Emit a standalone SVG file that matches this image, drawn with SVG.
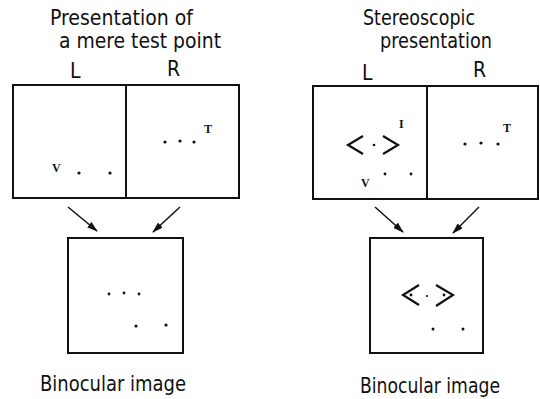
<svg xmlns="http://www.w3.org/2000/svg" width="540" height="399" viewBox="0 0 540 399">
<style>
.t{font-family:"DejaVu Sans Condensed","DejaVu Sans",sans-serif;font-size:21px;fill:#111}
.s{font-family:"Liberation Serif",serif;font-size:12px;font-weight:bold;fill:#111}
.box{fill:none;stroke:#111;stroke-width:2}
.ch{fill:none;stroke:#111;stroke-width:2.2}
.ar{stroke:#111;stroke-width:1.5;fill:none}
.d{fill:#111}
</style>
<defs>
<marker id="ah" markerWidth="11" markerHeight="7" refX="10" refY="3.5" orient="auto" markerUnits="userSpaceOnUse">
<path d="M0,0 L11,3.5 L0,7 z" fill="#111"/>
</marker>
</defs>
<rect width="540" height="399" fill="#fff"/>
<g id="left-titles">
<text class="t" x="50" y="25" textLength="143" lengthAdjust="spacingAndGlyphs">Presentation of</text>
<text class="t" x="59" y="48" textLength="162" lengthAdjust="spacingAndGlyphs">a mere test point</text>
<text class="t" x="70" y="78">L</text>
<text class="t" x="167" y="76">R</text>
</g>
<g id="left-L">
<rect class="box" x="13" y="85" width="113" height="113"/>
<text class="s" x="52" y="172">V</text>
<circle class="d" cx="79" cy="173" r="1.6"/>
<circle class="d" cx="110" cy="173" r="1.6"/>
</g>
<g id="left-R">
<rect class="box" x="126" y="85" width="113" height="113"/>
<circle class="d" cx="165" cy="142" r="1.6"/>
<circle class="d" cx="180" cy="141" r="1.6"/>
<circle class="d" cx="194" cy="142" r="1.6"/>
<text class="s" x="204" y="133">T</text>
</g>
<g id="left-binocular">
<rect class="box" x="68" y="238" width="115" height="115"/>
<circle class="d" cx="109" cy="294" r="1.4"/>
<circle class="d" cx="124" cy="293" r="1.4"/>
<circle class="d" cx="139" cy="294" r="1.4"/>
<circle class="d" cx="136" cy="326" r="1.6"/>
<circle class="d" cx="166" cy="325" r="1.6"/>
<text class="t" x="40" y="391" textLength="146" lengthAdjust="spacingAndGlyphs">Binocular image</text>
</g>
<g id="right-titles">
<text class="t" x="363" y="25" textLength="112" lengthAdjust="spacingAndGlyphs">Stereoscopic</text>
<text class="t" x="380" y="48" textLength="112" lengthAdjust="spacingAndGlyphs">presentation</text>
<text class="t" x="362" y="80">L</text>
<text class="t" x="473" y="77">R</text>
</g>
<g id="right-L">
<rect class="box" x="313" y="86" width="114" height="113"/>
<polyline class="ch" points="363,136 348,145 363,154"/>
<circle class="d" cx="374" cy="145" r="1.3"/>
<polyline class="ch" points="383,136 398,145 383,154"/>
<text class="s" x="399" y="128">I</text>
<text class="s" x="361" y="187">V</text>
<circle class="d" cx="385" cy="174" r="1.4"/>
<circle class="d" cx="411" cy="174" r="1.4"/>
</g>
<g id="right-R">
<rect class="box" x="427" y="86" width="111" height="113"/>
<circle class="d" cx="465" cy="144" r="1.6"/>
<circle class="d" cx="481" cy="143" r="1.6"/>
<circle class="d" cx="498" cy="144" r="1.6"/>
<text class="s" x="503" y="132">T</text>
</g>
<g id="right-binocular">
<rect class="box" x="370" y="238" width="113" height="115"/>
<polyline class="ch" points="419,285 403,295 419,305"/>
<circle class="d" cx="411" cy="295" r="1.4"/>
<circle class="d" cx="427" cy="296" r="1.1"/>
<polyline class="ch" points="436,285 453,295 436,306"/>
<circle class="d" cx="444" cy="295" r="1.4"/>
<circle class="d" cx="433" cy="329" r="1.5"/>
<circle class="d" cx="463" cy="329" r="1.5"/>
<text class="t" x="360" y="393" textLength="140" lengthAdjust="spacingAndGlyphs">Binocular image</text>
</g>
<g id="connectors">
<line class="ar" x1="68" y1="207" x2="97" y2="231" marker-end="url(#ah)"/>
<line class="ar" x1="180" y1="207" x2="153" y2="232" marker-end="url(#ah)"/>
<line class="ar" x1="375" y1="207" x2="403" y2="232" marker-end="url(#ah)"/>
<line class="ar" x1="479" y1="207" x2="453" y2="233" marker-end="url(#ah)"/>
</g>
</svg>
